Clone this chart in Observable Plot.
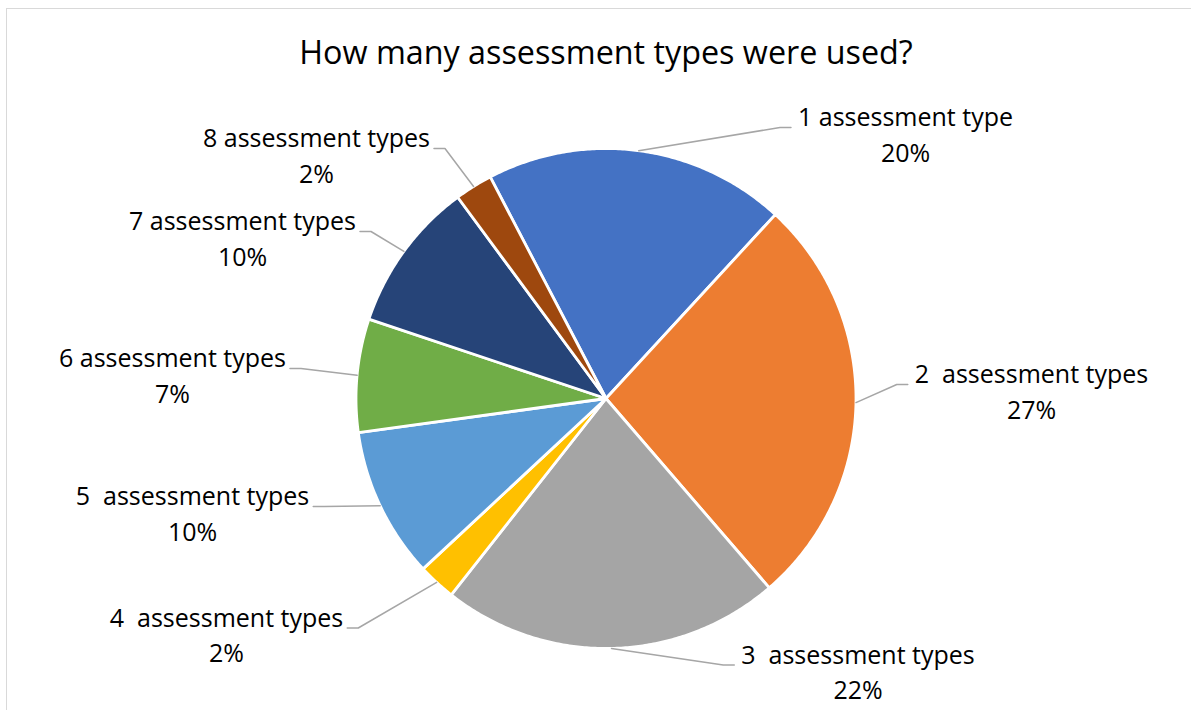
<!DOCTYPE html>
<html><head><meta charset="utf-8">
<script src="https://cdn.jsdelivr.net/npm/d3@7"></script>
<script src="https://cdn.jsdelivr.net/npm/@observablehq/plot@0.6"></script>
<style>
html,body{margin:0;padding:0;background:#fff;overflow:hidden;}
#wrap{position:relative;width:1191px;height:710px;}
#frame{position:absolute;left:6px;top:8px;width:1400px;height:900px;border:1.5px solid #D9D9D9;box-sizing:border-box;}
#chart{position:absolute;left:0;top:0;}
svg text{white-space:pre;}
</style></head><body>
<div id="wrap"><div id="frame"></div><div id="chart"></div></div>
<script>
// ---- data ----
const title = "How many assessment types were used?";
const categories = ["1 assessment type", "2  assessment types", "3  assessment types", "4  assessment types",
                    "5  assessment types", "6 assessment types", "7 assessment types", "8 assessment types"];
const counts = [8, 11, 9, 1, 4, 3, 4, 1];
const percentLabels = ["20%", "27%", "22%", "2%", "10%", "7%", "10%", "2%"];
const sliceColors = ["#4472C4", "#ED7D31", "#A5A5A5", "#FFC000", "#5B9BD5", "#70AD47", "#264478", "#9E480E"];

// ---- layout ----
const W = 1191, H = 710, CX = 605.5, CY = 398, R = 250;
const START_DEG = -27.6;                 // first slice angle (clockwise from 12 o'clock)
// label block centres, in pie-radius units relative to the pie centre (y up)
const labelPlacement = [[1.198, 1.052], [1.702, 0.024], [1.008, -1.098], [-1.518, -0.95],
                        [-1.654, -0.464], [-1.734, 0.088], [-1.454, 0.636], [-1.158, 0.968]];
const LABEL_FONT = 25, LINE_H = 1.42, TITLE_FONT = 32.3;

const total = d3.sum(counts);
const toRad = Math.PI / 180;
let acc = 0;
const slices = counts.map((v, i) => {
  const a0 = START_DEG + acc / total * 360; acc += v;
  const a1 = START_DEG + acc / total * 360;
  return {key: categories[i], a0, a1, mid: (a0 + a1) / 2};
});
const polar = (deg, r) => ({x: r * Math.sin(deg * toRad), y: r * Math.cos(deg * toRad)});
const slicePoints = slices.flatMap(s => {
  const n = Math.max(2, Math.ceil((s.a1 - s.a0) / 0.5));
  const pts = [{key: s.key, x: 0, y: 0}];
  for (let k = 0; k <= n; k++) pts.push({key: s.key, ...polar(s.a0 + (s.a1 - s.a0) * k / n, 1)});
  pts.push({key: s.key, x: 0, y: 0});
  return pts;
});

const ctx = document.createElement("canvas").getContext("2d");
ctx.font = `${LABEL_FONT}px "Open Sans"`;
const labels = slices.map((s, i) => ({key: s.key, text: categories[i] + "\n" + percentLabels[i],
  x: labelPlacement[i][0], y: labelPlacement[i][1]}));
const leaders = slices.flatMap((s, i) => {
  const L = labels[i], right = L.x > 0;
  const half = ctx.measureText(categories[i]).width / 2;
  const ex = L.x + (right ? -(half + 7) : (half + 4)) / R;
  const ey = L.y + 8 / R;
  const bx = ex + (right ? -11 : 11) / R;
  return [{key: s.key, ...polar(s.mid, 1)}, {key: s.key, x: bx, y: ey}, {key: s.key, x: ex, y: ey}];
});

const chart = Plot.plot({
  width: W, height: H, margin: 0,
  x: {domain: [(0 - CX) / R, (W - CX) / R], range: [0, W], axis: null},
  y: {domain: [(CY - H) / R, CY / R], range: [H, 0], axis: null},
  color: {domain: categories, range: sliceColors},
  style: {fontFamily: "'Open Sans', sans-serif", background: "transparent"},
  marks: [
    Plot.line(slicePoints, {x: "x", y: "y", z: "key", fill: "key", stroke: "white", strokeWidth: 2.8, strokeLinejoin: "round"}),
    Plot.line(leaders, {x: "x", y: "y", z: "key", stroke: "#A6A6A6", strokeWidth: 1.5}),
    Plot.text(labels, {x: "x", y: "y", dy: -3, text: "text", fontSize: LABEL_FONT, lineHeight: LINE_H, fill: "#000", textAnchor: "middle"}),
    Plot.text([title], {frameAnchor: "top", dx: CX - W / 2, dy: 41, fontSize: TITLE_FONT, fill: "#000", lineAnchor: "top"})
  ]
});
document.getElementById("chart").appendChild(chart);
</script>
</body></html>
